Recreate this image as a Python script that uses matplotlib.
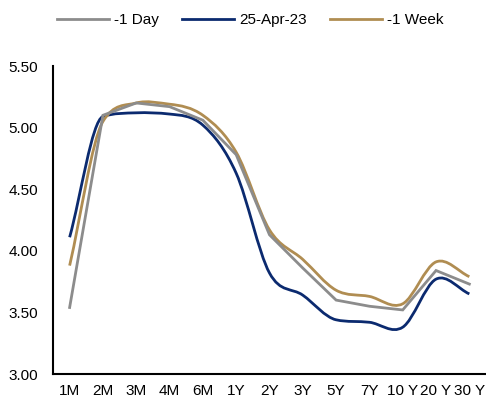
import numpy as np
import matplotlib
matplotlib.use("Agg")
import matplotlib.pyplot as plt
from matplotlib.path import Path
from matplotlib.patches import PathPatch
from matplotlib.lines import Line2D

plt.rcParams['font.family'] = ['Liberation Sans', 'DejaVu Sans']

tenors = ['1M', '2M', '3M', '4M', '6M', '1Y', '2Y', '3Y', '5Y', '7Y', '10 Y', '20 Y', '30 Y']
day_ago = [3.54, 5.10, 5.20, 5.17, 5.06, 4.78, 4.13, 3.86, 3.60, 3.55, 3.52, 3.84, 3.73]
apr25 = [4.11, 5.09, 5.12, 5.11, 5.02, 4.63, 3.82, 3.64, 3.44, 3.42, 3.38, 3.77, 3.65]
week_ago = [3.88, 5.05, 5.20, 5.19, 5.10, 4.80, 4.17, 3.93, 3.68, 3.63, 3.57, 3.91, 3.79]

c_day = '#8C8C8C'
c_apr = '#0B2A6F'
c_week = '#B08D52'


def smooth_path(x, y):
    # smoothed line as cubic beziers; tangent clipped on steep runs to avoid big overshoot
    x = np.asarray(x, float)
    y = np.asarray(y, float)
    n = len(x)
    d = np.diff(y) / np.diff(x)
    m = np.zeros(n)
    m[0] = d[0]
    m[-1] = d[-1]
    for i in range(1, n - 1):
        cr = (y[i + 1] - y[i - 1]) / (x[i + 1] - x[i - 1])
        if d[i - 1] * d[i] <= 0:
            m[i] = cr
        else:
            lim = 3 * min(abs(d[i - 1]), abs(d[i]))
            m[i] = np.sign(cr) * min(abs(cr), lim)
    verts = [(x[0], y[0])]
    codes = [Path.MOVETO]
    for i in range(n - 1):
        h = x[i + 1] - x[i]
        verts += [(x[i] + h / 3, y[i] + m[i] * h / 3),
                  (x[i + 1] - h / 3, y[i + 1] - m[i + 1] * h / 3),
                  (x[i + 1], y[i + 1])]
        codes += [Path.CURVE4] * 3
    return Path(verts, codes)


fig = plt.figure(figsize=(4.86, 4.01), dpi=100)
ax = fig.add_axes([0.109, 0.0673, 0.891, 0.7681])

xs = np.arange(len(tenors))
lw = 2.0
ax.plot(xs, day_ago, color=c_day, lw=lw, solid_joinstyle='miter')
ax.add_patch(PathPatch(smooth_path(xs, apr25), fill=False, edgecolor=c_apr, lw=lw))
ax.add_patch(PathPatch(smooth_path(xs, week_ago), fill=False, edgecolor=c_week, lw=lw))

ax.set_xlim(-0.5, len(tenors) - 0.5)
ax.set_ylim(3.0, 5.5)
ax.set_yticks([3.0, 3.5, 4.0, 4.5, 5.0, 5.5])
ax.set_yticklabels(['%.2f' % v for v in [3.0, 3.5, 4.0, 4.5, 5.0, 5.5]])
ax.set_xticks(xs)
ax.set_xticklabels(tenors)
ax.tick_params(axis='both', length=0, labelsize=11, colors='black')
ax.tick_params(axis='y', pad=10.5)
ax.tick_params(axis='x', pad=7)
for s in ['top', 'right']:
    ax.spines[s].set_visible(False)
for s in ['left', 'bottom']:
    ax.spines[s].set_linewidth(1.5)
    ax.spines[s].set_color('black')

handles = [Line2D([], [], color=c_day, lw=lw),
           Line2D([], [], color=c_apr, lw=lw),
           Line2D([], [], color=c_week, lw=lw)]
fig.legend(handles, ['-1 Day', '25-Apr-23', '-1 Week'], loc='center',
           bbox_to_anchor=(250 / 486, 1 - 20 / 401), ncol=3, frameon=False,
           fontsize=11, handlelength=3.4, handletextpad=0.35, columnspacing=1.5)

fig.savefig('out.png', dpi=100)
